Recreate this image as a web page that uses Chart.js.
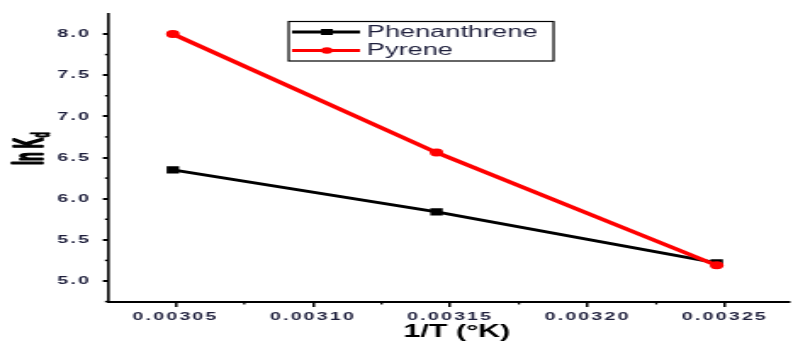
<!DOCTYPE html>
<html>
<head>
<meta charset="utf-8">
<script src="https://cdn.jsdelivr.net/npm/chart.js@4/dist/chart.umd.min.js"></script>
<style>
  html, body { margin: 0; padding: 0; background: #fff; overflow: hidden; }
  /* the original picture is stretched sideways, so the chart is drawn narrow and widened */
  #wrap { width: 470px; height: 343px; transform: scaleX(1.698); transform-origin: 0 0; }
</style>
</head>
<body>
<div id="wrap"><canvas id="c" width="470" height="343"></canvas></div>
<script>
// data
const invT = [0.003049, 0.003145, 0.003247];       // 1/T
const phenanthrene = [6.35, 5.84, 5.22];            // ln Kd
const pyrene = [8.0, 6.56, 5.19];
const seriesNames = ['Phenanthrene', 'Pyrene'];
const xTickStep = 0.00005;
const yTickStep = 0.5;

const textColor = '#1e1f3c';

function toPoints(xs, ys) {
  return xs.map((x, i) => ({ x: x, y: ys[i] }));
}

// minor ticks half way between the major ones
const minorTicks = {
  id: 'minorTicks',
  afterDraw(chart) {
    const ctx = chart.ctx;
    const xs = chart.scales.x, ys = chart.scales.y;
    ctx.save();
    ctx.strokeStyle = '#000';
    ctx.lineWidth = 1.3;
    for (let v = 0.003025; v <= xs.max; v += xTickStep) {
      if (v < xs.min) continue;
      const px = xs.getPixelForValue(v);
      ctx.beginPath();
      ctx.moveTo(px, xs.top);
      ctx.lineTo(px, xs.top + 2.5);
      ctx.stroke();
    }
    ctx.lineWidth = 1.5;
    for (let v = 4.75; v <= ys.max; v += yTickStep) {
      if (v < ys.min) continue;
      const py = ys.getPixelForValue(v);
      ctx.beginPath();
      ctx.moveTo(ys.right, py);
      ctx.lineTo(ys.right - 1.8, py);
      ctx.stroke();
    }
    ctx.restore();
  }
};

// spaced-out tick labels like the original
const spacing = {
  id: 'spacing',
  beforeDraw(chart) { chart.ctx.letterSpacing = '1.3px'; },
  afterDraw(chart) { chart.ctx.letterSpacing = '0px'; }
};

// axis titles (y title needs a subscript) and the boxed legend
const extras = {
  id: 'extras',
  afterDraw(chart) {
    const ctx = chart.ctx;
    ctx.save();
    ctx.letterSpacing = '0px';
    ctx.fillStyle = '#000';
    ctx.strokeStyle = '#000';

    // x title
    ctx.font = 'bold 18px "Liberation Sans", Arial, sans-serif';
    ctx.textAlign = 'center';
    ctx.textBaseline = 'alphabetic';
    ctx.fillText('1/T (°K)', 269, 337);

    // y title
    ctx.save();
    ctx.translate(24.7, 165);
    ctx.rotate(-Math.PI / 2);
    ctx.scale(0.62, 1);
    ctx.textAlign = 'left';
    ctx.lineWidth = 1.6;
    ctx.lineJoin = 'round';
    ctx.font = 'bold 23px "Liberation Sans", Arial, sans-serif';
    ctx.fillText('ln K', 0, 0);
    ctx.strokeText('ln K', 0, 0);
    const w = ctx.measureText('ln K').width;
    ctx.font = 'bold 14px "Liberation Sans", Arial, sans-serif';
    ctx.lineWidth = 1;
    ctx.fillText('d', w + 1, 4);
    ctx.strokeText('d', w + 1, 4);
    ctx.restore();

    // legend
    ctx.lineWidth = 1.2;
    ctx.strokeRect(170, 21.5, 156, 39.5);
    chart.data.datasets.forEach((ds, i) => {
      const y = 32 + i * 18.5;
      ctx.strokeStyle = ds.borderColor;
      ctx.lineWidth = 3;
      ctx.beginPath();
      ctx.moveTo(172, y);
      ctx.lineTo(212, y);
      ctx.stroke();
      ctx.fillStyle = ds.backgroundColor;
      ctx.beginPath();
      if (ds.pointStyle === 'rect') {
        ctx.rect(189, y - 3, 7, 6);
      } else {
        ctx.arc(192.5, y, 3.3, 0, Math.PI * 2);
      }
      ctx.fill();
      ctx.fillStyle = textColor;
      ctx.font = '16px "Liberation Sans", Arial, sans-serif';
      ctx.textAlign = 'left';
      ctx.textBaseline = 'alphabetic';
      ctx.fillText(ds.label, 216, y + 4.8);
    });
    ctx.restore();
  }
};

const tickFont = { family: '"Liberation Sans", Arial, sans-serif', size: 11.5, weight: 'bold' };

new Chart(document.getElementById('c'), {
  type: 'line',
  data: {
    datasets: [
      {
        label: seriesNames[0],
        data: toPoints(invT, phenanthrene),
        borderColor: '#000000',
        backgroundColor: '#000000',
        borderWidth: 3,
        pointStyle: 'rect',
        pointRadius: 5.2,
        pointBorderWidth: 0,
        order: 1
      },
      {
        label: seriesNames[1],
        data: toPoints(invT, pyrene),
        borderColor: '#ff0000',
        backgroundColor: '#ff0000',
        borderWidth: 3.6,
        pointStyle: 'circle',
        pointRadius: 4,
        pointBorderWidth: 0,
        order: 0
      }
    ]
  },
  options: {
    responsive: false,
    animation: false,
    devicePixelRatio: 1,
    layout: { padding: { top: 14, left: 0, right: 0, bottom: 0 } },
    plugins: { legend: { display: false }, tooltip: { enabled: false } },
    scales: {
      x: {
        type: 'linear',
        min: 0.0030254,
        max: 0.0032734,
        afterFit(scale) { scale.height = 41; },
        border: { color: '#000', width: 2 },
        grid: { drawOnChartArea: false, color: '#000', lineWidth: 1.5, tickLength: 5 },
        ticks: {
          stepSize: xTickStep,
          includeBounds: false,
          color: textColor,
          font: tickFont,
          padding: 3,
          maxRotation: 0,
          callback: v => v.toFixed(5)
        }
      },
      y: {
        min: 4.745,
        max: 8.243,
        afterFit(scale) { scale.width = 63.6; },
        border: { color: '#000', width: 1.6 },
        grid: { drawOnChartArea: false, color: '#000', lineWidth: 2, tickLength: 3 },
        ticks: {
          stepSize: yTickStep,
          includeBounds: false,
          color: textColor,
          font: tickFont,
          padding: 7,
          callback: v => v.toFixed(1)
        }
      }
    }
  },
  plugins: [spacing, minorTicks, extras]
});
</script>
</body>
</html>
